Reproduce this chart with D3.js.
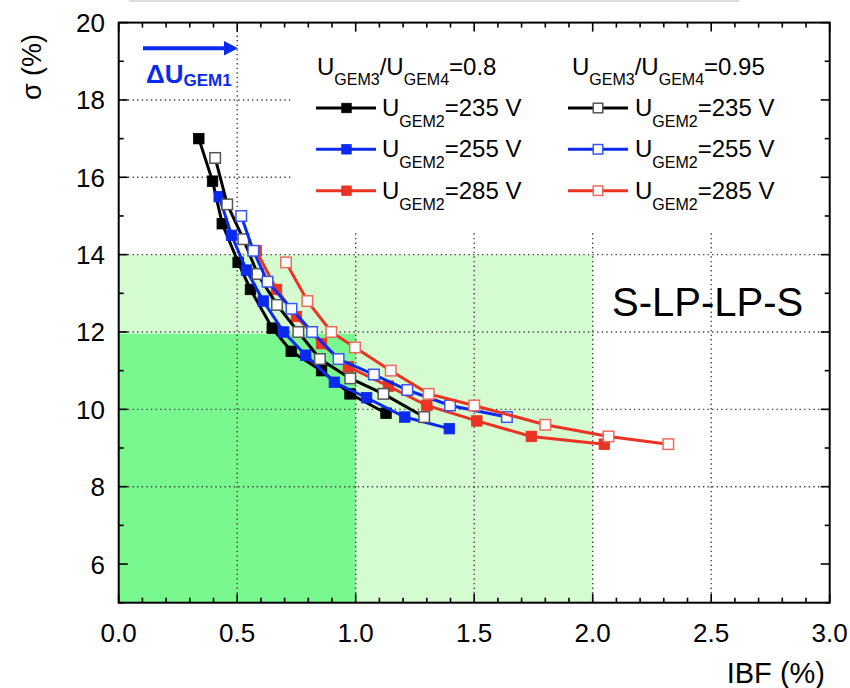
<!DOCTYPE html>
<html><head><meta charset="utf-8">
<script src="https://cdn.jsdelivr.net/npm/d3@7/dist/d3.min.js"></script>
<style>html,body{margin:0;padding:0;background:#fff;} text{font-family:"Liberation Sans",Arial,sans-serif;}</style>
</head><body><svg id="c" width="850" height="688"></svg>
<script>
// ---- data ----
const xTickValues = [0, 0.5, 1.0, 1.5, 2.0, 2.5, 3.0];
const xTickLabels = ["0.0","0.5","1.0","1.5","2.0","2.5","3.0"];
const yTickValues = [6, 8, 10, 12, 14, 16, 18, 20];
const yTickLabels = ["6","8","10","12","14","16","18","20"];

const ibf_08_235 = [0.338,0.396,0.437,0.504,0.556,0.648,0.728,0.856,0.976,1.128];
const sig_08_235 = [17.0,15.9,14.8,13.8,13.1,12.1,11.5,11.0,10.4,9.9];
const ibf_08_255 = [0.424,0.476,0.539,0.610,0.696,0.789,0.910,1.046,1.207,1.395];
const sig_08_255 = [15.5,14.5,13.6,12.8,12.0,11.4,10.7,10.3,9.8,9.5];
const ibf_08_285 = [0.58,0.666,0.75,0.856,0.969,1.138,1.30,1.511,1.741,2.049];
const sig_08_285 = [14.1,13.1,12.4,11.7,11.1,10.6,10.1,9.7,9.3,9.1];
const ibf_095_235 = [0.407,0.458,0.526,0.586,0.668,0.758,0.849,0.977,1.117,1.289];
const sig_095_235 = [16.5,15.3,14.4,13.5,12.7,12.0,11.3,10.8,10.4,9.8];
const ibf_095_255 = [0.517,0.568,0.628,0.729,0.816,0.928,1.077,1.218,1.398,1.638];
const sig_095_255 = [15.0,14.1,13.3,12.6,12.0,11.3,10.9,10.5,10.1,9.8];
const ibf_095_285 = [0.706,0.796,0.897,0.997,1.148,1.308,1.50,1.80,2.067,2.319];
const sig_095_285 = [13.8,12.8,12.0,11.6,11.0,10.4,10.1,9.6,9.3,9.1];

const legendHeaders = ["0.8", "0.95"];
const legendVoltages = ["235", "255", "285"];
const regionDark = {x1: 1.0, y1: 11.95};
const regionLight = {x1: 2.0, y1: 14};

// ---- setup ----
const svg = d3.select("#c");
const L = 118.7, R = 829.7, T = 22.6, B = 602.7;
const x = d3.scaleLinear().domain([0, 3]).range([L, R]);
const y = d3.scaleLinear().domain([5, 20]).range([B, T]);
const cBlack = "#000000", cBlue = "#0a2af0", cRed = "#ea3323";

// faint top artifact line
svg.append("line").attr("x1",129).attr("x2",739).attr("y1",1).attr("y2",1)
  .attr("stroke","#dcdcdc").attr("stroke-width",2);

// green regions
svg.append("rect").attr("x", x(0)).attr("y", y(regionLight.y1))
  .attr("width", x(regionLight.x1)-x(0)).attr("height", y(5)-y(regionLight.y1)).attr("fill","#d5fbd1");
svg.append("rect").attr("x", x(0)).attr("y", y(regionDark.y1))
  .attr("width", x(regionDark.x1)-x(0)).attr("height", y(5)-y(regionDark.y1)).attr("fill","#78f88e");

// grid
const grid = svg.append("g").attr("stroke","#444").attr("stroke-width",1.4).attr("stroke-dasharray","1.4,3.2");
[0.5,1.0,1.5,2.0,2.5].forEach(v => grid.append("line").attr("x1",x(v)).attr("x2",x(v)).attr("y1",y(5)).attr("y2",y(20)));
[8,10,12,14,16,18].forEach(v => grid.append("line").attr("x1",x(0)).attr("x2",x(3)).attr("y1",y(v)).attr("y2",y(v)));

// legend background (hides grid)
svg.append("rect").attr("x",292).attr("y",T+1).attr("width",R-292-1).attr("height",232-T-1).attr("fill","#fff");

// series
const series = [
  {xs: ibf_08_235, ys: sig_08_235, c: cBlack, open:false},
  {xs: ibf_08_255, ys: sig_08_255, c: cBlue, open:false},
  {xs: ibf_08_285, ys: sig_08_285, c: cRed, open:false},
  {xs: ibf_095_235, ys: sig_095_235, c: cBlack, open:true, oc:"#555"},
  {xs: ibf_095_255, ys: sig_095_255, c: cBlue, open:true, oc:"#3a55f5"},
  {xs: ibf_095_285, ys: sig_095_285, c: cRed, open:true, oc:"#f06a5e"},
];
const line = d3.line().x(d=>x(d[0])).y(d=>y(d[1]));
const MS = 10.5;
series.forEach(s => {
  const pts = s.xs.map((v,i)=>[v, s.ys[i]]);
  svg.append("path").attr("d", line(pts)).attr("fill","none").attr("stroke", s.c).attr("stroke-width",3);
  svg.selectAll(null).data(pts).enter().append("rect")
    .attr("x", d=>x(d[0])-MS/2).attr("y", d=>y(d[1])-MS/2).attr("width",MS).attr("height",MS)
    .attr("fill", s.open ? "#fff" : s.c)
    .attr("stroke", s.open ? s.oc : s.c).attr("stroke-width", s.open ? 1.5 : 0.8);
});

// frame
svg.append("rect").attr("x",L).attr("y",T).attr("width",R-L).attr("height",B-T)
  .attr("fill","none").attr("stroke","#000").attr("stroke-width",2);

// ticks (inward, all four sides)
const tk = svg.append("g").attr("stroke","#000").attr("stroke-width",1.6);
d3.range(0, 31).forEach(i => {
  const v = i/10, len = (i%5===0) ? 9 : 5;
  tk.append("line").attr("x1",x(v)).attr("x2",x(v)).attr("y1",B).attr("y2",B-len);
  tk.append("line").attr("x1",x(v)).attr("x2",x(v)).attr("y1",T).attr("y2",T+len);
});
d3.range(5, 21).forEach(v => {
  const len = (v%2===0) ? 9 : 5;
  tk.append("line").attr("x1",L).attr("x2",L+len).attr("y1",y(v)).attr("y2",y(v));
  tk.append("line").attr("x1",R).attr("x2",R-len).attr("y1",y(v)).attr("y2",y(v));
});

// tick labels
xTickValues.forEach((v,i) => svg.append("text").attr("x", x(v)).attr("y", 642)
  .attr("text-anchor","middle").attr("font-size",26).attr("fill","#000").text(xTickLabels[i]));
yTickValues.forEach((v,i) => svg.append("text").attr("x", 105).attr("y", y(v)+9.5)
  .attr("text-anchor","end").attr("font-size",26).attr("fill","#000").text(yTickLabels[i]));

// axis titles
svg.append("text").attr("x",825).attr("y",683).attr("text-anchor","end").attr("font-size",29).text("IBF (%)");
svg.append("text").attr("transform","translate(41,67) rotate(-90)").attr("text-anchor","middle")
  .attr("font-size",27).text("σ (%)");

// S-LP-LP-S
svg.append("text").attr("x",612).attr("y",316).attr("font-size",40).text("S-LP-LP-S");

// delta U arrow
svg.append("line").attr("x1",143).attr("x2",226).attr("y1",48.3).attr("y2",48.3).attr("stroke",cBlue).attr("stroke-width",4);
svg.append("path").attr("d","M224,41 L238,48.3 L224,55.6 Z").attr("fill",cBlue);
const du = svg.append("text").attr("x",146).attr("y",83).attr("fill",cBlue).attr("font-weight","bold").attr("font-size",26);
du.append("tspan").text("ΔU");
du.append("tspan").attr("font-size",17).attr("dy",3).text("GEM1");

// legend
const colX = [{lx1:316, lx2:376, mx:346.5, tx:382, hx:317}, {lx1:568, lx2:628, mx:598, tx:635, hx:572}];
const rowY = [108, 149.3, 190.7];
const rowColors = [[cBlack,"#555"],[cBlue,"#3a55f5"],[cRed,"#f06a5e"]];
colX.forEach((c, ci) => {
  const h = svg.append("text").attr("x", c.hx).attr("y", 75).attr("font-size",24);
  h.append("tspan").text("U");
  h.append("tspan").attr("font-size",16).attr("dy",10).text("GEM3");
  h.append("tspan").attr("dy",-10).text("/U");
  h.append("tspan").attr("font-size",16).attr("dy",10).text("GEM4");
  h.append("tspan").attr("dy",-10).text("=" + legendHeaders[ci]);
  legendVoltages.forEach((v, ri) => {
    const yy = rowY[ri], col = rowColors[ri][0];
    svg.append("line").attr("x1",c.lx1).attr("x2",c.lx2).attr("y1",yy).attr("y2",yy).attr("stroke",col).attr("stroke-width",3);
    const ms = 9.5;
    svg.append("rect").attr("x",c.mx-ms/2).attr("y",yy-ms/2).attr("width",ms).attr("height",ms)
      .attr("fill", ci===1 ? "#fff" : col).attr("stroke", ci===1 ? rowColors[ri][1] : col).attr("stroke-width", ci===1?1.5:0.8);
    const t = svg.append("text").attr("x", c.tx).attr("y", yy+8).attr("font-size",24);
    t.append("tspan").text("U");
    t.append("tspan").attr("font-size",16).attr("dy",11).text("GEM2");
    t.append("tspan").attr("dy",-11).text("=" + v + " V");
  });
});
</script></body></html>
